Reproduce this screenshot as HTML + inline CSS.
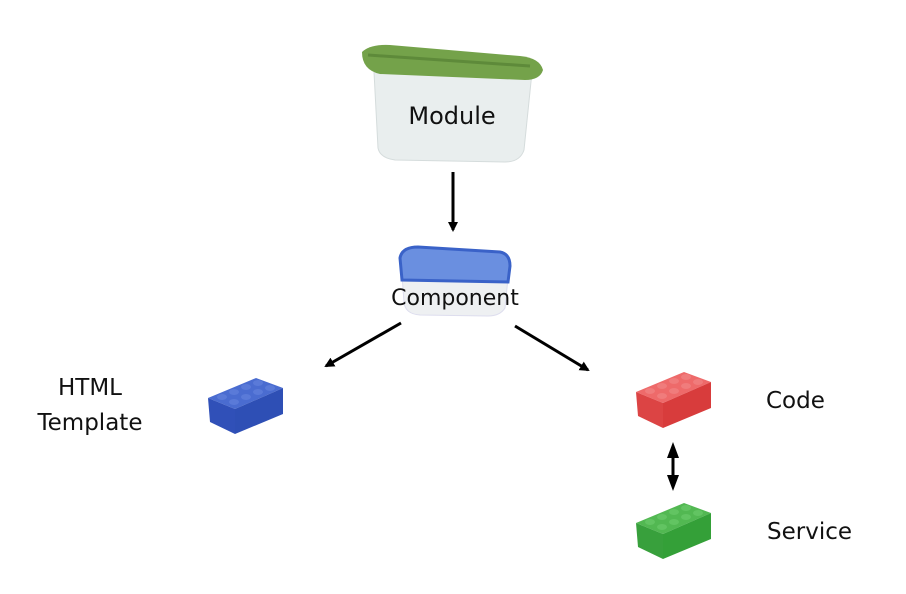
<!DOCTYPE html>
<html><head><meta charset="utf-8"><style>
body{margin:0;background:#fff;width:906px;height:594px;overflow:hidden}
svg{display:block}
text{font-family:"DejaVu Sans","Liberation Sans",sans-serif;fill:#111}
</style></head><body>
<svg width="906" height="594" viewBox="0 0 906 594" xmlns="http://www.w3.org/2000/svg">
<defs>
<marker id="ah" markerWidth="10" markerHeight="10" refX="8" refY="5" orient="auto" markerUnits="userSpaceOnUse"><path d="M0,0 L10,5 L0,10 z" fill="#000"/></marker>
<g id="brick">
 <polygon points="0,20 48,0 75,10 27,31" fill="var(--t)"/>
 <polygon points="0,20 27,31 27,56 2,44" fill="var(--f)"/>
 <polygon points="27,31 75,10 75,36 27,56" fill="var(--s)"/>
 <g fill="var(--st)">
  <ellipse cx="14" cy="19" rx="5" ry="3"/><ellipse cx="26" cy="14" rx="5" ry="3"/><ellipse cx="38" cy="9" rx="5" ry="3"/><ellipse cx="50" cy="5" rx="5" ry="3"/>
  <ellipse cx="26" cy="24" rx="5" ry="3"/><ellipse cx="38" cy="19" rx="5" ry="3"/><ellipse cx="50" cy="14" rx="5" ry="3"/><ellipse cx="62" cy="10" rx="5" ry="3"/>
 </g>
</g>
</defs>
<!-- Module box -->
<path d="M374,72 L532,72 L524,150 Q520,162 505,162 L395,160 Q380,158 378,148 Z" fill="#e9eeee" stroke="#d5dcdc"/>
<path d="M362,52 Q370,44 390,45 L520,56 Q540,58 543,70 Q540,80 525,80 L380,74 Q362,70 362,52 Z" fill="#74a24a"/>
<path d="M368,55 L530,66" stroke="#5e8a3a" stroke-width="3"/>
<text x="452" y="124" font-size="24" text-anchor="middle">Module</text>
<!-- arrow down -->
<line x1="453" y1="172" x2="453" y2="230" stroke="#000" stroke-width="3" marker-end="url(#ah)"/>
<!-- Component box -->
<path d="M402,275 L508,278 L505,308 Q500,316 488,316 L420,315 Q405,314 404,302 Z" fill="#eef0f2" stroke="#dde"/>
<path d="M400,258 Q402,247 418,247 L500,252 Q510,254 510,266 L508,282 L402,280 Z" fill="#6a8fe0" stroke="#3a62c8" stroke-width="3"/>
<text x="455" y="305" font-size="22" text-anchor="middle">Component</text>
<!-- diagonal arrows -->
<line x1="401" y1="323" x2="326" y2="366" stroke="#000" stroke-width="3" marker-end="url(#ah)"/>
<line x1="515" y1="326" x2="588" y2="370" stroke="#000" stroke-width="3" marker-end="url(#ah)"/>
<!-- HTML Template -->
<text x="90" y="395" font-size="23" text-anchor="middle">HTML</text>
<text x="90" y="430" font-size="23" text-anchor="middle">Template</text>
<use href="#brick" x="208" y="378" style="--t:#4a6cd0;--f:#3050b8;--s:#2e4fb5;--st:#5a7ad8"/>
<!-- Code -->
<use href="#brick" x="636" y="372" style="--t:#ee6a6a;--f:#dc4444;--s:#d83c3c;--st:#f07c7c"/>
<text x="766" y="408" font-size="23">Code</text>
<!-- double arrow -->
<line x1="673" y1="450" x2="673" y2="484" stroke="#000" stroke-width="3" marker-end="url(#ah)" marker-start="url(#ah2)"/>
<polygon points="673,442 667,458 679,458" fill="#000"/>
<polygon points="673,491 667,475 679,475" fill="#000"/>
<!-- Service -->
<use href="#brick" x="636" y="503" style="--t:#52b852;--f:#38a03c;--s:#34a038;--st:#62c462"/>
<text x="767" y="539" font-size="23">Service</text>
</svg>
</body></html>
